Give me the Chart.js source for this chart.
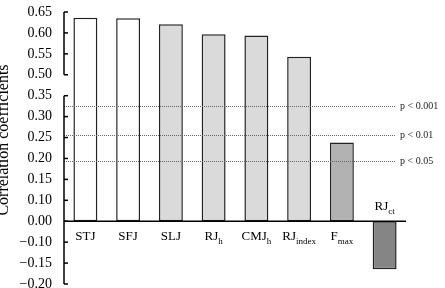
<!DOCTYPE html>
<html>
<head>
<meta charset="utf-8">
<script src="https://cdn.jsdelivr.net/npm/chart.js@4.4.1/dist/chart.umd.min.js"></script>
<style>
	html, body { margin: 0; padding: 0; background: #fff; }
	#wrap { width: 445px; height: 288px; }
</style>
</head>
<body>
<div id="wrap"><canvas id="corrChart" width="445" height="288"></canvas></div>
<script>
const categories = ['STJ', 'SFJ', 'SLJ', 'RJ', 'CMJ', 'RJ', 'F', 'RJ'];
const subscripts = ['', '', '', 'h', 'h', 'index', 'max', 'ct'];
const coefficients = [0.636, 0.635, 0.621, 0.597, 0.594, 0.543, 0.238, -0.165];
const yTickValues = [-0.20, -0.15, -0.10, 0.00, 0.10, 0.15, 0.20, 0.25, 0.30, 0.35, 0.50, 0.55, 0.60, 0.65];
const pLabels = ['p < 0.001', 'p < 0.01', 'p < 0.05'];
const pThresholds = [0.326, 0.256, 0.193];
const yTitle = 'Correlation coefficients';

;(function (window, document, undefined) {
	'use strict';

	const SERIF = '"Liberation Serif", "DejaVu Serif", serif';
	const fills = ['#ffffff', '#ffffff', '#dadada', '#dadada', '#dadada', '#dadada', '#b2b2b2', '#858585'];

	// the printed axis is not linear, each value sits between its two neighbouring tick labels
	function toPos(v) {
		let last = yTickValues.length - 2;
		for (let i = 0; i <= last; i++) {
			let a = yTickValues[i], b = yTickValues[i + 1];
			if (v <= b || i === last) {
				return i + (v - a) / (b - a);
			}
		}
	}

	function fmt(v) {
		let s = Math.abs(v).toFixed(2);
		return v < 0 ? '\u2212' + s : s;
	}

	const zeroPos = toPos(0);

	const brokenAxis = {
		id: 'brokenAxis',
		afterDatasetsDraw(chart) {
			let ctx	= chart.ctx;
			let area = chart.chartArea;
			let xs = chart.scales.x;
			let ys = chart.scales.y;
			let left = area.left;
			let zeroY = ys.getPixelForValue(zeroPos);

			ctx.save();

			// significance lines
			ctx.strokeStyle = '#666';
			ctx.lineWidth = 1;
			ctx.setLineDash([1, 1]);
			ctx.font = '10px ' + SERIF;
			ctx.fillStyle = '#222';
			ctx.textAlign = 'left';
			ctx.textBaseline = 'middle';
			pThresholds.forEach(function (t, i) {
				let py = Math.round(ys.getPixelForValue(toPos(t))) + 0.5;
				ctx.beginPath();
				ctx.moveTo(left, py);
				ctx.lineTo(area.right - 11, py);
				ctx.stroke();
				ctx.fillText(pLabels[i], area.right - 6, py);
			});
			ctx.setLineDash([]);

			// y axis in two pieces, gap between 0.35 and 0.50
			ctx.strokeStyle = '#000';
			ctx.lineWidth = 1.5;
			let segs = [[yTickValues.length - 1, 10], [9, 0]];
			segs.forEach(function (s) {
				ctx.beginPath();
				ctx.moveTo(left, ys.getPixelForValue(s[0]));
				ctx.lineTo(left, ys.getPixelForValue(s[1]));
				ctx.stroke();
			});
			for (let i = 0; i < yTickValues.length; i++) {
				let ty = ys.getPixelForValue(i);
				ctx.beginPath();
				ctx.moveTo(left, ty);
				ctx.lineTo(left + 4, ty);
				ctx.stroke();
			}

			// zero line
			ctx.beginPath();
			ctx.moveTo(left, zeroY);
			ctx.lineTo(area.right, zeroY);
			ctx.stroke();

			// category labels with subscripts
			ctx.fillStyle = '#000';
			ctx.textBaseline = 'middle';
			categories.forEach(function (c, i) {
				let cx = xs.getPixelForValue(i);
				let cy = coefficients[i] < 0 ? zeroY - 15 : zeroY + 15;
				ctx.font = '13px ' + SERIF;
				let w1 = ctx.measureText(c).width;
				ctx.font = '9px ' + SERIF;
				let w2 = subscripts[i] ? ctx.measureText(subscripts[i]).width : 0;
				let x0 = cx - (w1 + w2) / 2;
				ctx.textAlign = 'left';
				ctx.font = '13px ' + SERIF;
				ctx.fillText(c, x0, cy);
				if (subscripts[i]) {
					ctx.font = '9px ' + SERIF;
					ctx.fillText(subscripts[i], x0 + w1, cy + 5);
				}
			});

			// axis title, partly cut by the left edge as in the source
			ctx.translate(4, (area.top + area.bottom) / 2 - 8);
			ctx.rotate(-Math.PI / 2);
			ctx.font = '16px ' + SERIF;
			ctx.textAlign = 'center';
			ctx.fillText(yTitle, 0, 0);

			ctx.restore();
		}
	};

	let ctx = document.getElementById('corrChart').getContext('2d');
	new Chart(ctx, {
		type: 'bar',
		data: {
			labels: categories.map(function (c, i) { return c + subscripts[i]; }),
			datasets: [{
				data: coefficients.map(function (v) { return [zeroPos, toPos(v)]; }),
				backgroundColor: fills,
				borderColor: '#222',
				borderWidth: 1.5,
				borderSkipped: false,
				categoryPercentage: 1,
				barPercentage: 0.56
			}]
		},
		options: {
			responsive: false,
			animation: false,
			layout: { padding: { left: 0, right: 39, top: 12, bottom: 4 } },
			plugins: { legend: { display: false }, tooltip: { enabled: false } },
			scales: {
				x: { type: 'category', display: false, offset: true },
				y: {
					type: 'linear',
					min: 0,
					max: yTickValues.length - 1,
					grid: { display: false, drawTicks: false },
					border: { display: false },
					ticks: {
						stepSize: 1,
						padding: 12,
						color: '#000',
						font: { family: SERIF, size: 14 },
						callback: function (value) { return fmt(yTickValues[value]); }
					},
					afterFit: function (scale) {
						scale.width = 64;
						scale.paddingTop = 0;
						scale.paddingBottom = 0;
					}
				}
			}
		},
		plugins: [brokenAxis]
	});

})(window, document);
</script>
</body>
</html>
